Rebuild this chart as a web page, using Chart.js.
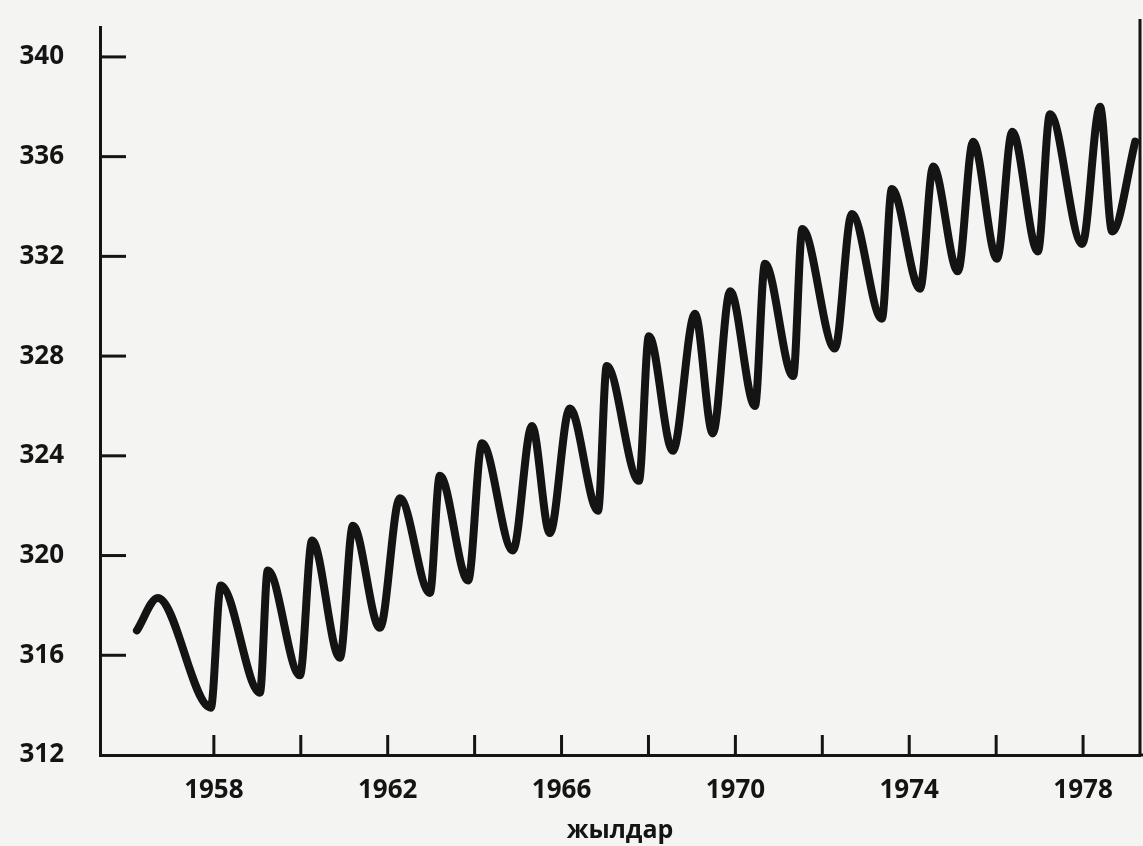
<!DOCTYPE html>
<html>
<head>
<meta charset="utf-8">
<script src="https://cdn.jsdelivr.net/npm/chart.js@4/dist/chart.umd.min.js"></script>
<style>
    html, body { margin: 0; padding: 0; background: #f4f4f2; }
    #wrap { width: 1143px; height: 846px; position: relative; }
</style>
</head>
<body>
<div id="wrap"><canvas id="co2Chart"></canvas></div>
<script>
// start, then alternating peaks and troughs
var years = [1956.23, 1956.71, 1957.93, 1958.16, 1959.06, 1959.24, 1959.98, 1960.26,
    1960.90, 1961.20, 1961.82, 1962.28, 1962.97, 1963.20, 1963.85, 1964.17,
    1964.88, 1965.32, 1965.73, 1966.19, 1966.84, 1967.04, 1967.78, 1968.01,
    1968.56, 1969.07, 1969.48, 1969.88, 1970.45, 1970.68, 1971.33, 1971.54,
    1972.29, 1972.68, 1973.37, 1973.60, 1974.25, 1974.55, 1975.12, 1975.47,
    1976.02, 1976.37, 1976.96, 1977.24, 1977.98, 1978.39, 1978.67, 1979.20];
var co2 = [317.0, 318.3, 313.9, 318.8, 314.5, 319.4, 315.2, 320.6,
    315.9, 321.2, 317.1, 322.3, 318.5, 323.2, 319.0, 324.5,
    320.2, 325.2, 320.9, 325.9, 321.8, 327.6, 323.0, 328.8,
    324.2, 329.7, 324.9, 330.6, 326.0, 331.7, 327.2, 333.1,
    328.3, 333.7, 329.5, 334.7, 330.7, 335.6, 331.4, 336.6,
    331.9, 337.0, 332.2, 337.7, 332.5, 338.0, 333.0, 336.6];

var xTicks = [1958, 1960, 1962, 1964, 1966, 1968, 1970, 1972, 1974, 1976, 1978];
var xLabels = [1958, 1962, 1966, 1970, 1974, 1978];
var yTicks = [312, 316, 320, 324, 328, 332, 336, 340];

var points = [];
for (var i = 0; i < years.length; i++) {
    points.push({x: years[i], y: co2[i]});
}

var ink = "#141414";
var labelFont = {family: "'Open Sans', sans-serif", size: 26, weight: '700'};

// inward tick marks and the right frame line
var tickMarks = {
    id: 'tickMarks',
    afterDraw: function (chart) {
        var ctx = chart.ctx, a = chart.chartArea;
        var x = chart.scales.x, y = chart.scales.y;
        ctx.save();
        ctx.strokeStyle = ink;
        ctx.lineWidth = 3;
        yTicks.forEach(function (v) {
            if (v === 312) return;
            var py = y.getPixelForValue(v);
            ctx.beginPath();
            ctx.moveTo(a.left, py);
            ctx.lineTo(a.left + 26, py);
            ctx.stroke();
        });
        xTicks.forEach(function (v) {
            var px = x.getPixelForValue(v);
            ctx.beginPath();
            ctx.moveTo(px, a.bottom);
            ctx.lineTo(px, a.bottom - 20);
            ctx.stroke();
        });
        ctx.beginPath();
        ctx.moveTo(a.right, a.top - 8);
        ctx.lineTo(a.right, a.bottom);
        ctx.stroke();
        // axis runs on to the page edge
        ctx.beginPath();
        ctx.moveTo(a.right, a.bottom);
        ctx.lineTo(chart.width, a.bottom);
        ctx.stroke();
        ctx.restore();
    }
};

new Chart(document.getElementById('co2Chart'), {
    type: 'line',
    data: {
        datasets: [{
            label: 'CO2',
            data: points,
            borderColor: ink,
            borderWidth: 8,
            borderCapStyle: 'round',
            borderJoinStyle: 'round',
            cubicInterpolationMode: 'monotone',
            pointRadius: 0,
            fill: false
        }]
    },
    options: {
        responsive: true,
        maintainAspectRatio: false,
        animation: false,
        layout: {padding: {top: 27, right: 3, left: 0, bottom: 0}},
        plugins: {legend: {display: false}, tooltip: {enabled: false}},
        scales: {
            x: {
                type: 'linear',
                min: 1955.38,
                max: 1979.31,
                afterBuildTicks: function (scale) {
                    scale.ticks = xTicks.map(function (v) { return {value: v}; });
                },
                afterFit: function (scale) {
                    scale.height = 91;
                    scale.paddingLeft = 0;
                    scale.paddingRight = 0;
                },
                grid: {display: false, drawTicks: false},
                border: {display: true, color: ink, width: 3},
                ticks: {
                    color: ink,
                    font: labelFont,
                    padding: 20,
                    maxRotation: 0,
                    autoSkip: false,
                    callback: function (v) { return xLabels.indexOf(v) >= 0 ? String(v) : ''; }
                },
                title: {
                    display: true,
                    text: 'жылдар',
                    color: ink,
                    font: {family: "'Open Sans', sans-serif", size: 25, weight: '700'},
                    padding: {top: 0, bottom: 0}
                }
            },
            y: {
                min: 312,
                max: 341.2,
                afterBuildTicks: function (scale) {
                    scale.ticks = yTicks.map(function (v) { return {value: v}; });
                },
                afterFit: function (scale) {
                    scale.width = 100;
                    scale.paddingTop = 0;
                    scale.paddingBottom = 0;
                },
                grid: {display: false, drawTicks: false},
                border: {display: true, color: ink, width: 3},
                ticks: {
                    color: ink,
                    font: labelFont,
                    padding: 36
                }
            }
        }
    },
    plugins: [tickMarks]
});
</script>
</body>
</html>
